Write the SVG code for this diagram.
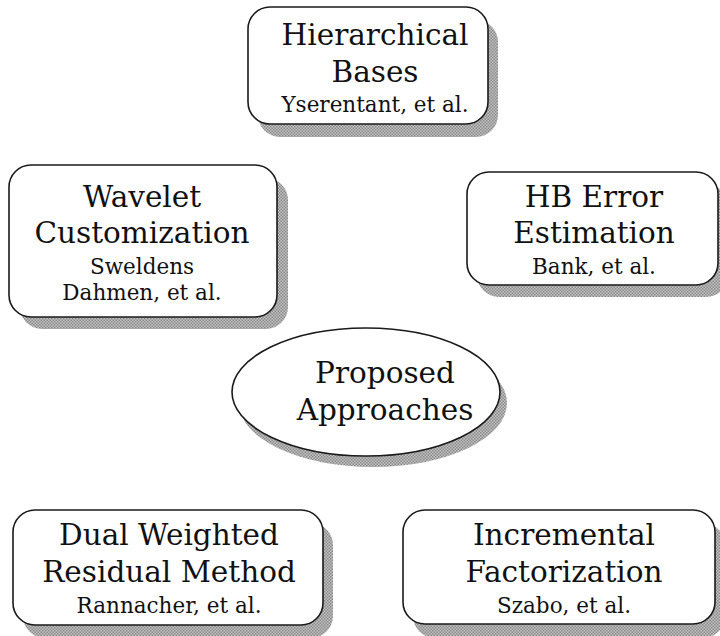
<svg xmlns="http://www.w3.org/2000/svg" width="720" height="636" viewBox="0 0 720 636">
<defs>
<pattern id="hatch" width="3" height="3" patternUnits="userSpaceOnUse">
<rect width="3" height="3" fill="#c4c4c4"/>
<rect width="1.5" height="1.5" fill="#888"/>
<rect x="1.5" y="1.5" width="1.5" height="1.5" fill="#888"/>
</pattern>
</defs>
<style>
.box{fill:#fff;stroke:#1a1a1a;stroke-width:1.6}
.sh{fill:url(#hatch)}
.t{font-family:"DejaVu Serif","Liberation Serif",serif;font-size:29.5px;fill:#111;text-anchor:middle}
.s{font-family:"DejaVu Serif","Liberation Serif",serif;font-size:21.5px;fill:#111;text-anchor:middle}
</style>
<rect width="720" height="636" fill="#fff"/>
<g id="connectors"></g>
<g id="hierarchical">
<rect class="sh" x="258" y="20" width="240" height="117" rx="22"/>
<rect class="box" x="248" y="7" width="240" height="117" rx="22"/>
<text class="t" x="375" y="45">Hierarchical</text>
<text class="t" x="375" y="82">Bases</text>
<text class="s" x="375" y="112">Yserentant, et al.</text>
</g>
<g id="wavelet">
<rect class="sh" x="20" y="178" width="268" height="151" rx="22"/>
<rect class="box" x="9" y="165" width="268" height="152" rx="22"/>
<text class="t" x="142" y="207">Wavelet</text>
<text class="t" x="142" y="243">Customization</text>
<text class="s" x="142" y="274">Sweldens</text>
<text class="s" x="142" y="300">Dahmen, et al.</text>
</g>
<g id="hberror">
<rect class="sh" x="477" y="184" width="251" height="113" rx="22"/>
<rect class="box" x="467" y="172" width="251" height="113" rx="22"/>
<text class="t" x="594" y="207">HB Error</text>
<text class="t" x="594" y="243">Estimation</text>
<text class="s" x="594" y="274">Bank, et al.</text>
</g>
<g id="proposed">
<ellipse class="sh" cx="373" cy="403" rx="134" ry="64"/>
<ellipse class="box" cx="366" cy="392" rx="134" ry="64"/>
<text class="t" x="385" y="383">Proposed</text>
<text class="t" x="385" y="420">Approaches</text>
</g>
<g id="dual">
<rect class="sh" x="23" y="523" width="310" height="115" rx="22"/>
<rect class="box" x="13" y="510" width="310" height="115" rx="22"/>
<text class="t" x="169" y="545">Dual Weighted</text>
<text class="t" x="169" y="582">Residual Method</text>
<text class="s" x="169" y="613">Rannacher, et al.</text>
</g>
<g id="incremental">
<rect class="sh" x="413" y="523" width="312" height="115" rx="22"/>
<rect class="box" x="403" y="510" width="312" height="114" rx="22"/>
<text class="t" x="564" y="545">Incremental</text>
<text class="t" x="564" y="582">Factorization</text>
<text class="s" x="564" y="613">Szabo, et al.</text>
</g>
</svg>
